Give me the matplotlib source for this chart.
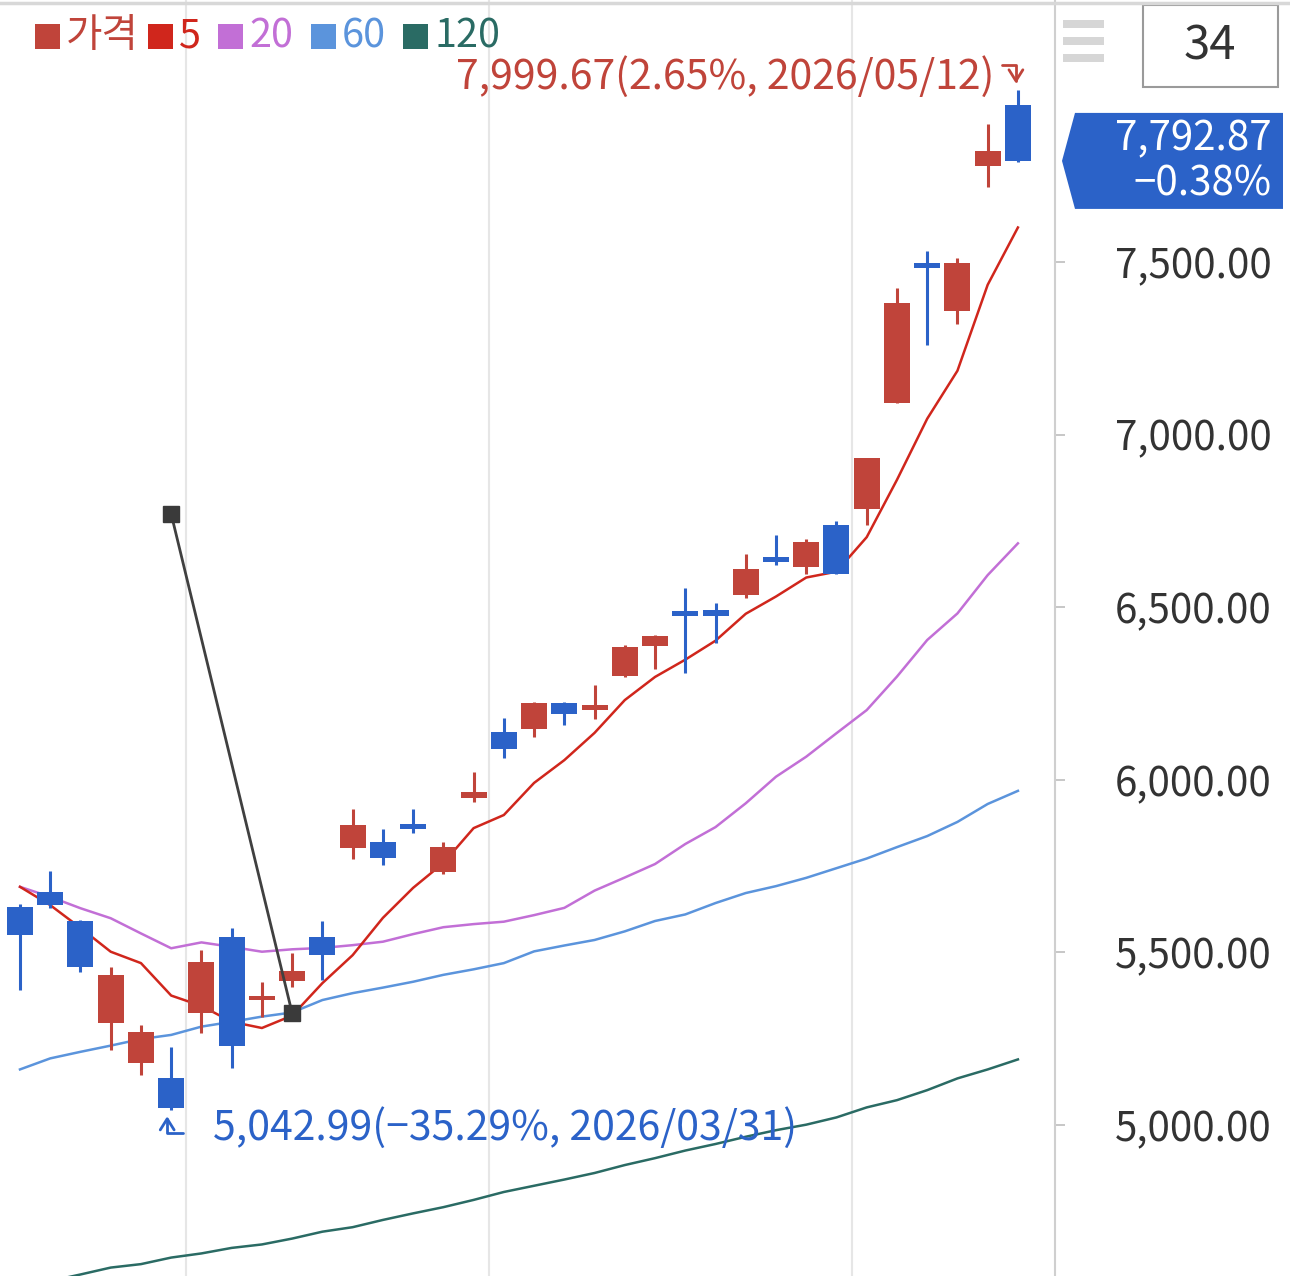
import matplotlib
matplotlib.use("Agg")
import matplotlib.pyplot as plt
from matplotlib.patches import Rectangle, Polygon
from matplotlib.transforms import IdentityTransform

plt.rcParams["font.family"] = ["Noto Sans CJK KR", "DejaVu Sans"]

# daily candles (34 sessions)
opens = [5631, 5675, 5591, 5295, 5180, 5136, 5324, 5545, 5362, 5417,
         5545, 5802, 5820, 5872, 5733, 5947, 6138, 6147, 6222, 6202,
         6301, 6388, 6489, 6492, 6535, 6642, 6616, 6738, 6784, 7092,
         7497, 7357, 7778, 7955]
highs = [5640, 5736, 5594, 5458, 5289, 5226, 5507, 5571, 5414, 5498,
         5591, 5915, 5857, 5915, 5820, 6022, 6179, 6226, 6226, 6275,
         6390, 6419, 6556, 6511, 6654, 6709, 6699, 6750, 6932, 7425,
         7532, 7512, 7900, 7999.67]
lows = [5391, 5629, 5443, 5217, 5145, 5042.99, 5266, 5165, 5313, 5400,
        5420, 5770, 5753, 5847, 5727, 5936, 6063, 6124, 6159, 6176,
        6298, 6321, 6309, 6396, 6528, 6622, 6595, 6596, 6738, 7092,
        7260, 7320, 7717, 7790]
closes = [5550, 5637, 5458, 5434, 5269, 5049, 5472, 5229, 5374, 5446,
          5492, 5869, 5773, 5857, 5805, 5965, 6089, 6222, 6190, 6217,
          6385, 6416, 6475, 6475, 6611, 6631, 6689, 6596, 6932, 7381,
          7483, 7497, 7822.6, 7792.87]

# moving averages
ma5 = [5690, 5637, 5571, 5502, 5469, 5375, 5345, 5299, 5281, 5317,
       5411, 5492, 5600, 5687, 5759, 5860, 5898, 5991, 6057, 6136,
       6231, 6298, 6348, 6403, 6481, 6531, 6586, 6603, 6703, 6869,
       7046, 7185, 7434, 7600]
ma20 = [5690, 5661, 5628, 5599, 5555, 5512, 5529, 5516, 5502, 5509,
        5513, 5521, 5531, 5553, 5573, 5582, 5589, 5608, 5629, 5679,
        5717, 5756, 5814, 5863, 5932, 6009, 6067, 6135, 6202, 6299,
        6405, 6482, 6593, 6685]
ma60 = [5161, 5193, 5212, 5230, 5249, 5261, 5285, 5299, 5314, 5326,
        5362, 5382, 5398, 5415, 5435, 5451, 5469, 5503, 5520, 5536,
        5561, 5591, 5610, 5643, 5672, 5692, 5716, 5744, 5772, 5805,
        5837, 5878, 5930, 5968]
ma120 = [4531, 4548, 4567, 4587, 4597, 4616, 4628, 4644, 4654, 4671,
         4691, 4704, 4725, 4744, 4762, 4783, 4806, 4824, 4842, 4861,
         4884, 4904, 4926, 4945, 4966, 4985, 5001, 5022, 5051, 5072,
         5101, 5135, 5161, 5190]

ma_labels = ["5", "20", "60", "120"]
y_ticks = [5000, 5500, 6000, 6500, 7000, 7500]
month_breaks = [5.5, 15.5, 27.5]
low_date = "2026/03/31"
high_date = "2026/05/12"
# user-drawn trend line (candle index, price)
trend_x = [5, 9]
trend_y = [6770, 5324]

RED = "#c0443a"
BLUE = "#2b62c8"
MA_COLORS = ["#d0261c", "#c26fd6", "#5b94dc", "#2a6b64"]


def pct(v, base):
    # minus sign as the app shows it
    return f"{(v / base - 1) * 100:.2f}%".replace("-", "\u2212")


W, H = 1290, 1276
fig = plt.figure(figsize=(W / 100, H / 100), dpi=100)
ax = fig.add_axes([0, 0, 1055 / W, 1])
ax.set_xlim(-0.661, 34.226)
ax.set_ylim(4562.6, 8259)

n = len(closes)
xs = list(range(n))

for b in month_breaks:
    ax.axvline(b, color="#e6e6e6", lw=1.5, zorder=0)

for vals, col in zip([ma120, ma60, ma20, ma5], MA_COLORS[::-1]):
    ax.plot(xs, vals, color=col, lw=1.8, zorder=2)

for i in xs:
    col = RED if closes[i] >= opens[i] else BLUE
    ax.vlines(i, lows[i], highs[i], color=col, lw=2.2, zorder=3)
    bottom = min(opens[i], closes[i])
    height = max(abs(closes[i] - opens[i]), 13)
    ax.bar(i, height, bottom=bottom, width=0.86, color=col, zorder=4)

ax.plot(trend_x, trend_y, color="#404040", lw=2, zorder=5)
ax.plot(trend_x, trend_y, ls="none", marker="s", ms=11, color="#3a3a3a", zorder=6)

# axis styling
for s in ["top", "left", "bottom"]:
    ax.spines[s].set_visible(False)
ax.spines["right"].set_color("#cfcfcf")
ax.spines["right"].set_linewidth(1.5)
ax.yaxis.tick_right()
ax.set_yticks(y_ticks)
ax.set_yticklabels([f"{v:,.2f}" for v in y_ticks])
ax.tick_params(axis="y", length=7, width=1.2, color="#bdbdbd", pad=36,
               labelsize=29, labelcolor="#333333")
ax.set_xticks([])

fig.canvas.draw()
to_px = ax.transData.transform

# high / low annotations
last = closes[-1]
hi_i = highs.index(max(highs))
lo_i = lows.index(min(lows))
hx, hy = to_px((hi_i, highs[hi_i]))
lx, ly = to_px((lo_i, lows[lo_i]))

arrow = dict(arrowstyle="->,head_length=0.8,head_width=0.5",
             connectionstyle="angle,angleA=0,angleB=90,rad=0", lw=2,
             shrinkA=0, shrinkB=0)

hi_txt = f"{highs[hi_i]:,.2f}({pct(highs[hi_i], last)}, {high_date})"
lo_txt = f"{lows[lo_i]:,.2f}({pct(lows[lo_i], last)}, {low_date})"
fig.text(hx - 24, hy + 13, hi_txt, transform=IdentityTransform(),
         ha="right", va="center", fontsize=29.5, color=RED)
ax.annotate("", xy=(hx - 2, hy + 6), xycoords="figure pixels",
            xytext=(hx - 16, hy + 25), textcoords="figure pixels",
            arrowprops=dict(arrow, color=RED))
fig.text(lx + 42, ly - 18, lo_txt, transform=IdentityTransform(),
         ha="left", va="center", fontsize=29.5, color=BLUE)
ax.annotate("", xy=(lx - 4, ly - 6), xycoords="figure pixels",
            xytext=(lx + 12, ly - 23), textcoords="figure pixels",
            arrowprops=dict(arrow, color=BLUE))

# current price tag
_, cy = to_px((n - 1, last))
tag = Polygon([(1062, cy), (1075, cy + 48), (1283, cy + 48),
               (1283, cy - 48), (1075, cy - 48)], closed=True,
              facecolor=BLUE, edgecolor="none", transform=IdentityTransform())
fig.add_artist(tag)
fig.text(1272, cy + 22, f"{last:,.2f}", transform=IdentityTransform(),
         ha="right", va="center", fontsize=29, color="white")
fig.text(1272, cy - 23, pct(last, closes[-2]), transform=IdentityTransform(),
         ha="right", va="center", fontsize=29, color="white")

# legend row
legend_x = [35, 148, 218, 311, 403]
legend_names = ["가격"] + ma_labels
legend_cols = [RED] + MA_COLORS
for x0, name, col in zip(legend_x, legend_names, legend_cols):
    fig.add_artist(Rectangle((x0, H - 49), 25, 25, facecolor=col,
                             edgecolor="none", transform=IdentityTransform()))
    fig.text(x0 + 31, H - 36, name, transform=IdentityTransform(),
             ha="left", va="center", fontsize=28.5, color=col)

# top right widgets
for yb in [20, 37, 54]:
    fig.add_artist(Rectangle((1063, H - yb - 8), 41, 8, facecolor="#d6d6d6",
                             edgecolor="none", transform=IdentityTransform()))
fig.add_artist(Rectangle((1143, H - 87), 135, 82, facecolor="white",
                         edgecolor="#9a9a9a", lw=1.5,
                         transform=IdentityTransform()))
fig.text(1210, H - 46, str(n), transform=IdentityTransform(),
         ha="center", va="center", fontsize=34, color="#333333")

fig.add_artist(plt.Line2D([0, W], [H - 3, H - 3], color="#d8d8d8", lw=2.5,
                          transform=IdentityTransform()))

fig.savefig("out.png", dpi=100)
